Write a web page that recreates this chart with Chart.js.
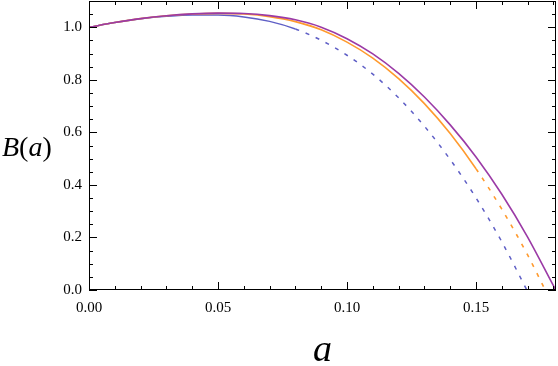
<!DOCTYPE html>
<html>
<head>
<meta charset="utf-8">
<script src="https://cdn.jsdelivr.net/npm/chart.js@4/dist/chart.umd.min.js"></script>
<style>
  html, body { margin: 0; padding: 0; background: #fff; }
  #wrap { position: relative; width: 558px; height: 366px; }
</style>
</head>
<body>
<div id="wrap"><canvas id="c" width="558" height="366"></canvas></div>
<script>
// a values and B(a) curves
var aPurple = [0, 0.01, 0.02, 0.03, 0.04, 0.05, 0.06, 0.07, 0.08, 0.09, 0.10, 0.11, 0.12, 0.13, 0.14, 0.15, 0.16, 0.17, 0.18, 0.1809];
var bPurple = [1.000, 1.018, 1.033, 1.044, 1.051, 1.054, 1.0525, 1.0445, 1.0285, 1.0005, 0.9565, 0.8985, 0.8245, 0.7345, 0.6285, 0.5065, 0.3645, 0.2015, 0.0165, 0.0];

var aOrange = [0, 0.01, 0.02, 0.03, 0.04, 0.05, 0.06, 0.07, 0.08, 0.09, 0.10, 0.11, 0.12, 0.13, 0.14, 0.15, 0.16, 0.17, 0.1768];
var bOrange = [1.000, 1.018, 1.033, 1.044, 1.0505, 1.053, 1.0505, 1.0405, 1.0215, 0.9905, 0.9435, 0.8825, 0.8045, 0.7095, 0.5955, 0.4615, 0.3075, 0.1335, 0.0];

var aBlue = [0, 0.01, 0.02, 0.03, 0.04, 0.05, 0.06, 0.07, 0.08, 0.09, 0.10, 0.11, 0.12, 0.13, 0.14, 0.15, 0.16, 0.1697];
var bBlue = [1.000, 1.018, 1.032, 1.0415, 1.0465, 1.0465, 1.0395, 1.0225, 0.9935, 0.9505, 0.8935, 0.8215, 0.7315, 0.6235, 0.4965, 0.3505, 0.1835, 0.0];

// where each curve switches from solid to dashed
var dashOrange = 0.15;
var dashBlue = 0.08;

var xTicks = [0, 0.05, 0.10, 0.15];
var yTicks = [0, 0.2, 0.4, 0.6, 0.8, 1.0];

function pts(xs, ys) {
    return xs.map(function (x, i) { return { x: x, y: ys[i] }; });
}

function dashAfter(limit) {
    return function (ctx) {
        return ctx.p0.parsed.x >= limit - 1e-9 ? [4, 7] : undefined;
    };
}

var SERIF = '"Liberation Serif", "DejaVu Serif", serif';

// frame with inward ticks on all four sides, plus the axis titles
var framePlugin = {
    id: 'frame',
    afterDraw: function (chart) {
        var ctx = chart.ctx;
        var area = chart.chartArea;
        var xs = chart.scales.x, ys = chart.scales.y;
        ctx.save();
        ctx.strokeStyle = '#000';
        ctx.lineWidth = 1;
        ctx.strokeRect(area.left + 0.5, area.top + 0.5, area.right - area.left - 1, area.bottom - area.top - 1);
        ctx.beginPath();
        var v, px, major, len;
        for (var i = 0; i <= 18; i++) {
            v = i / 100;
            px = Math.round(xs.getPixelForValue(v)) + 0.5;
            major = i % 5 === 0;
            len = major ? 8 : 4;
            ctx.moveTo(px, area.bottom); ctx.lineTo(px, area.bottom - len);
            ctx.moveTo(px, area.top); ctx.lineTo(px, area.top + len);
        }
        for (var j = 0; j <= 22; j++) {
            v = j * 0.05;
            px = Math.round(ys.getPixelForValue(v)) + 0.5;
            major = j % 4 === 0;
            len = major ? 8 : 4;
            ctx.moveTo(area.left, px); ctx.lineTo(area.left + len, px);
            ctx.moveTo(area.right, px); ctx.lineTo(area.right - len, px);
        }
        ctx.stroke();

        // axis titles: "a" under the plot, "B(a)" to the left
        ctx.fillStyle = '#000';
        ctx.textBaseline = 'alphabetic';
        ctx.textAlign = 'center';
        ctx.font = 'italic 38px ' + SERIF;
        ctx.fillText('a', (area.left + area.right) / 2, 361);

        ctx.textAlign = 'left';
        var parts = [['B', 'italic '], ['(', ''], ['a', 'italic '], [')', '']];
        var x = 2, base = 156;
        parts.forEach(function (p) {
            ctx.font = p[1] + '28px ' + SERIF;
            ctx.fillText(p[0], x, base);
            x += ctx.measureText(p[0]).width;
        });
        ctx.restore();
    }
};

// lower dataset index is drawn on top: purple over orange over blue
new Chart(document.getElementById('c'), {
    type: 'line',
    data: {
        datasets: [
            {
                label: 'purple',
                data: pts(aPurple, bPurple),
                borderColor: '#9b3aa6',
                borderWidth: 1.6
            },
            {
                label: 'orange',
                data: pts(aOrange, bOrange),
                borderColor: '#ff9a2e',
                borderWidth: 1.6,
                segment: { borderDash: dashAfter(dashOrange) }
            },
            {
                label: 'blue',
                data: pts(aBlue, bBlue),
                borderColor: '#5f5fc6',
                borderWidth: 1.5,
                segment: { borderDash: dashAfter(dashBlue) }
            }
        ]
    },
    options: {
        responsive: false,
        animation: false,
        events: [],
        layout: { padding: { top: 1, right: 2, left: 0, bottom: 0 } },
        elements: {
            point: { radius: 0 },
            line: { cubicInterpolationMode: 'monotone', fill: false }
        },
        plugins: { legend: { display: false }, tooltip: { enabled: false } },
        scales: {
            x: {
                type: 'linear',
                min: 0,
                max: 0.181,
                afterFit: function (s) {
                    s.height = 76;
                    s.paddingLeft = 0; s.paddingRight = 0;
                },
                afterBuildTicks: function (s) {
                    s.ticks = xTicks.map(function (v) { return { value: v }; });
                },
                grid: { display: false, drawTicks: false },
                border: { display: false },
                ticks: {
                    padding: 9,
                    color: '#000',
                    maxRotation: 0,
                    autoSkip: false,
                    font: { family: SERIF, size: 15 },
                    callback: function (v) { return v.toFixed(2); }
                }
            },
            y: {
                min: 0,
                max: 1.1,
                afterFit: function (s) {
                    s.width = 89;
                    s.paddingTop = 0; s.paddingBottom = 0;
                },
                afterBuildTicks: function (s) {
                    s.ticks = yTicks.map(function (v) { return { value: v }; });
                },
                grid: { display: false, drawTicks: false },
                border: { display: false },
                ticks: {
                    padding: 7,
                    color: '#000',
                    autoSkip: false,
                    font: { family: SERIF, size: 15 },
                    callback: function (v) { return v.toFixed(1); }
                }
            }
        }
    },
    plugins: [framePlugin]
});
</script>
</body>
</html>
